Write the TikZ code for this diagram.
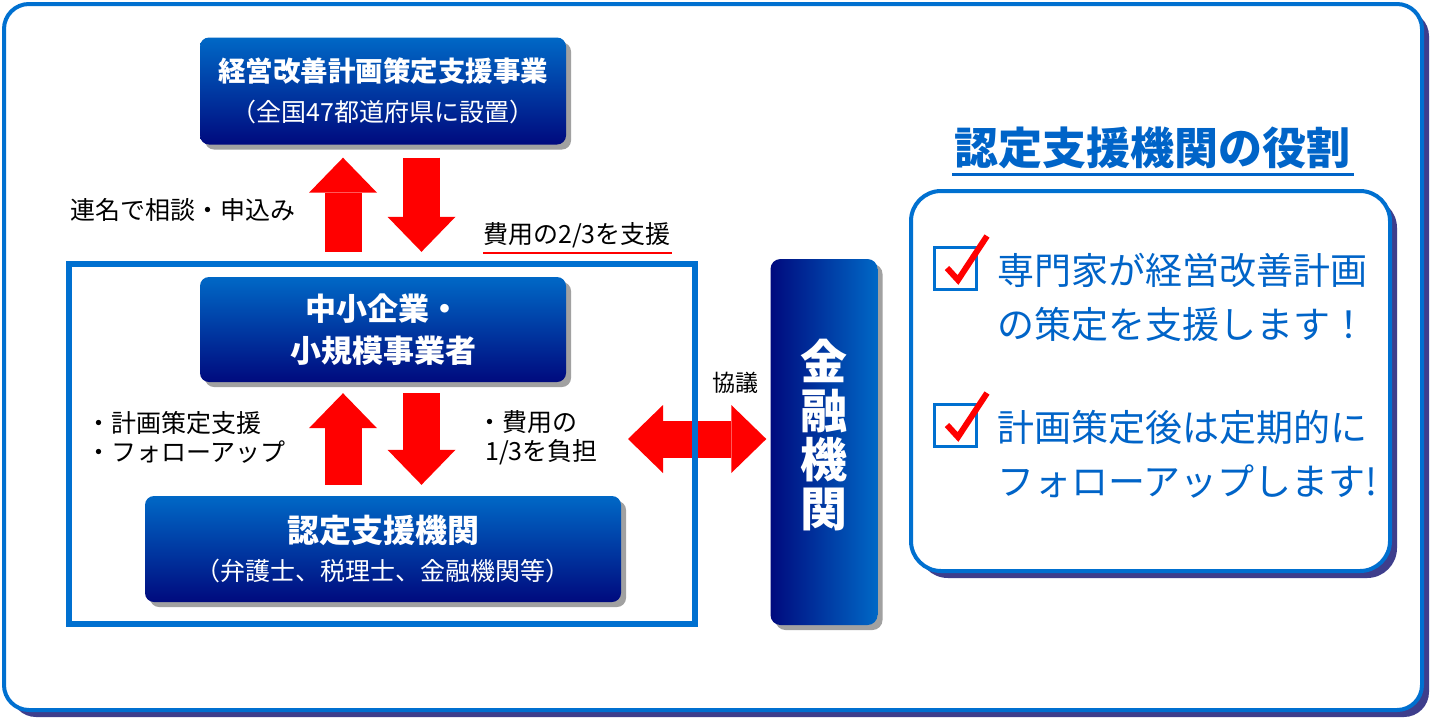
\documentclass[tikz,border=0pt]{standalone}
\usepackage{fontspec}
\setmainfont{Noto Sans CJK JP}
\usetikzlibrary{positioning,shadows,arrows.meta}
\definecolor{boxtop}{RGB}{0,104,198}
\definecolor{boxbot}{RGB}{0,10,126}
\definecolor{frameblue}{RGB}{0,112,208}
\definecolor{navyshade}{RGB}{62,62,140}
\definecolor{roleblue}{RGB}{0,100,200}
\newcommand{\jsize}[2]{\fontsize{#1}{#2}\selectfont}
\tikzset{
bluebox/.style={rounded corners=9pt,top color=boxtop,bottom color=boxbot,text=white,align=center,inner sep=0pt,
drop shadow={shadow xshift=5pt,shadow yshift=-5pt,fill=black!37,opacity=1}},
bankbox/.style={rounded corners=10pt,left color=boxbot,right color=boxtop,text=white,align=center,inner sep=0pt,
drop shadow={shadow xshift=5pt,shadow yshift=-5pt,fill=black!37,opacity=1}},
groupframe/.style={draw=frameblue,line width=6pt,inner sep=0pt},
rolebox/.style={draw=frameblue,line width=4pt,fill=white,rounded corners=30pt,inner sep=0pt,
drop shadow={shadow xshift=7pt,shadow yshift=-7pt,fill=navyshade,opacity=1}},
label/.style={font=\jsize{25}{29},align=left,inner sep=0pt,anchor=west},
roletext/.style={font=\jsize{37}{54},text=roleblue,align=left,inner sep=0pt,anchor=west},
bigarrow/.style={draw=red,line width=37pt,-{Triangle[length=35pt,width=68pt,line width=0pt]}},
botharrow/.style={draw=red,line width=37pt,{Triangle[length=35pt,width=68pt,line width=0pt]}-{Triangle[length=35pt,width=68pt,line width=0pt]}},
checkbox/.style={draw=frameblue,line width=3pt},
checkmark/.style={draw=red,line width=6pt,line join=miter}
}
\begin{document}
\begin{tikzpicture}[x=1pt,y=-1pt]
\useasboundingbox (0,0) rectangle (1431,721);
% outer frame
\fill[navyshade,rounded corners=25pt] (11,11) rectangle (1429,717);
\draw[frameblue,line width=4pt,fill=white,rounded corners=25pt] (4,4) rectangle (1422,710);

% boxes
\node[bluebox,minimum width=366pt,minimum height=107pt,font=\jsize{25}{40}] (keiei) at (383,91)
{{\bfseries\jsize{27.5}{40}経営改善計画策定支援事業}\\（全国47都道府県に設置）};
\node[bluebox,minimum width=366pt,minimum height=105pt,font=\bfseries\jsize{31}{42}] (chusho) at (383,329.5)
{中小企業・\\小規模事業者};
\node[bluebox,minimum width=476pt,minimum height=106pt,font=\jsize{25}{38}] (nintei) at (383,549)
{{\bfseries\jsize{32}{38}認定支援機関}\\（弁護士、税理士、金融機関等）};
\node[bankbox,minimum width=107pt,minimum height=366pt,font=\bfseries\jsize{47}{49},text depth=19pt] (kinyu) at (824,442)
{金\\融\\機\\関};

% arrows
\draw[bigarrow] ([xshift=-40pt,yshift=25pt]chusho.north) -- ([xshift=-40pt,yshift=-13pt]keiei.south);
\draw[bigarrow] ([xshift=38.5pt,yshift=-13pt]keiei.south) -- ([xshift=38.5pt,yshift=25pt]chusho.north);
\draw[bigarrow] ([xshift=-40pt,yshift=11pt]nintei.north) -- ([xshift=-40pt,yshift=-11pt]chusho.south);
\draw[bigarrow] ([xshift=38.5pt,yshift=-11pt]chusho.south) -- ([xshift=38.5pt,yshift=11pt]nintei.north);
\coordinate (kyogiL) at (628,439);
\draw[botharrow,shorten >=4pt] (kyogiL) -- (kyogiL -| kinyu.west);
\node[groupframe,minimum width=626pt,minimum height=360pt] (group) at (382,444) {};

% labels
\node[label] (renmei) at (70,210) {連名で相談・申込み};
\node[label] (shien23) at (483,235) {費用の2/3を支援};
\draw[red,line width=2pt] (shien23.south west) ++(0,5) -- ++(189,0);
\node[label] (sakutei) at (86,437.5) {・計画策定支援\\・フォローアップ};
\node[label] (futan) at (477,437.5) {・費用の\\\hspace*{8pt}1/3を負担};
\node[font=\jsize{23}{28},inner sep=0pt] (kyogi) at (735,383) {協議};

% role panel
\node[font=\bfseries\jsize{44}{50},text=roleblue,inner sep=0pt] (roletitle) at (1152,148) {認定支援機関の役割};
\draw[roleblue,line width=3pt] (952,174) -- (1354,174);
\node[rolebox,minimum width=479pt,minimum height=380pt] (role) at (1150.5,381) {};
\foreach \y in {246,403}{
\draw[checkbox] (934.5,\y+1) rectangle +(42,42);
\draw[checkmark] (947,\y+22) -- (958,\y+34) -- (987,\y-10);
}
\node[roletext] (role1) at (997,297) {専門家が経営改善計画\\の策定を支援します！};
\node[roletext] (role2) at (997,454.5) {計画策定後は定期的に\\フォローアップします!};
\end{tikzpicture}
\end{document}
